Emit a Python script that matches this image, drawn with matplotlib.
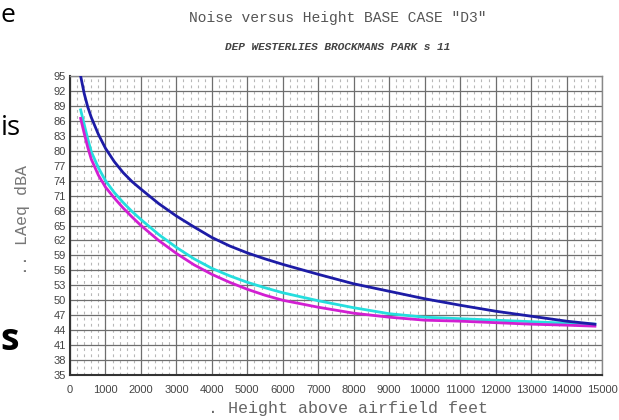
import matplotlib.pyplot as plt
from matplotlib.ticker import MultipleLocator

# height above airfield (ft)
height_ft = [300, 400, 500, 600, 800, 1000, 1250, 1500, 1750, 2000, 2500, 3000, 3500,
             4000, 4500, 5000, 5500, 6000, 7000, 8000, 9000, 10000, 11000, 12000,
             13000, 14000, 14800]

# LAeq dBA per series
blue_db = [95.0, 91.5, 88.8, 86.7, 83.3, 80.5, 77.8, 75.6, 73.8, 72.3, 69.4, 66.9, 64.7,
           62.6, 60.9, 59.5, 58.3, 57.2, 55.2, 53.3, 51.8, 50.3, 49.0, 47.8,
           46.8, 45.8, 45.2]
cyan_db = [88.2, 85.3, 82.4, 79.8, 76.6, 74.0, 71.6, 69.6, 67.8, 66.2, 63.2, 60.6, 58.3,
           56.4, 54.9, 53.6, 52.5, 51.5, 49.9, 48.5, 47.3, 46.6, 46.3, 46.0,
           45.7, 45.4, 45.2]
magenta_db = [86.5, 83.5, 80.7, 78.3, 75.1, 72.7, 70.5, 68.5, 66.7, 65.0, 62.0, 59.4, 57.1,
              55.2, 53.6, 52.2, 51.0, 50.0, 48.6, 47.4, 46.6, 46.0, 45.8, 45.5,
              45.2, 45.0, 44.8]

xticks = list(range(0, 15001, 1000))
yticks = list(range(35, 96, 3))

fig = plt.figure(figsize=(6.19, 4.2), dpi=100)
ax = fig.add_axes([70/619, 1-375/420, 532/619, 299/420])

ax.plot(height_ft, cyan_db, color="#25dede", lw=2.0, zorder=3)
ax.plot(height_ft, magenta_db, color="#d21fd2", lw=2.0, zorder=4)
ax.plot(height_ft, blue_db, color="#1d1ca6", lw=2.0, zorder=5)

ax.set_xlim(0, 15000)
ax.set_ylim(35, 95)
ax.set_xticks(xticks)
ax.set_yticks(yticks)
ax.xaxis.set_minor_locator(MultipleLocator(200))

ax.grid(which="major", color="#6e6e6e", lw=0.9)
ax.grid(which="minor", axis="x", color="#b8b8b8", lw=0.8, linestyle=(0, (2.5, 3)))
ax.set_axisbelow(True)

ax.tick_params(which="both", length=0)
ax.tick_params(axis="x", pad=7, labelsize=8, labelcolor="#444")
ax.tick_params(axis="y", pad=3, labelsize=8, labelcolor="#444")
for lab in ax.get_xticklabels() + ax.get_yticklabels():
    lab.set_family("Liberation Sans")

for s in ["left", "bottom"]:
    ax.spines[s].set_color("#333")
    ax.spines[s].set_linewidth(1.5)
for s in ["top", "right"]:
    ax.spines[s].set_color("#888")
    ax.spines[s].set_linewidth(1.0)

fig.text(338/619, 1-18/420, 'Noise versus Height BASE CASE "D3"', ha="center", va="center",
         family="Liberation Mono", fontsize=10.5, color="#555")
fig.text(338/619, 1-47/420, "DEP WESTERLIES BROCKMANS PARK s 11", ha="center", va="center",
         family="Liberation Mono", fontsize=8, style="italic", weight="bold", color="#444")
fig.text(348/619, 1-409/420, ". Height above airfield feet", ha="center", va="center",
         family="Liberation Mono", fontsize=12, color="#666")
fig.text(23/619, 1-220/420, ".. LAeq dBA", ha="center", va="center", rotation=90,
         family="Liberation Mono", fontsize=12, color="#777")

# slide text peeking out on the left
fig.text(15/619, 1-22/420, "e", ha="right", va="baseline", family="Open Sans", fontsize=19)
fig.text(21/619, 1-135/420, "is", ha="right", va="baseline", family="Open Sans", fontsize=20)
fig.text(19/619, 1-350/420, "s", ha="right", va="baseline", family="Open Sans",
         fontsize=27, weight="bold")

fig.savefig("out.png", dpi=100)
